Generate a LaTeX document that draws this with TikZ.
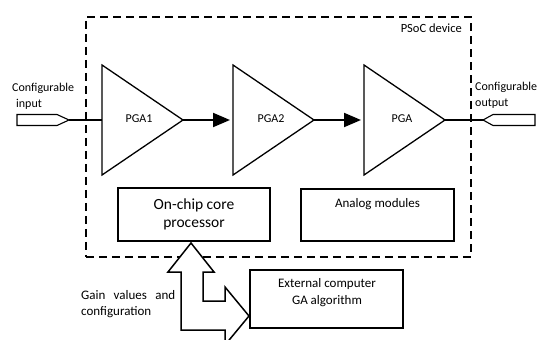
\documentclass[tikz,border=0pt]{standalone}
\usepackage{fontspec}
\setmainfont{Carlito}
\usetikzlibrary{arrows.meta}
\begin{document}
\begin{tikzpicture}[x=1pt,y=-1pt,
  amp/.style={draw,line width=1.3pt,line join=miter},
  sig/.style={draw,line width=1.1pt},
  box/.style={draw,line width=1.3pt,inner sep=0pt},
  thickbox/.style={draw,line width=2pt,inner sep=0pt},
  flow/.style={line width=2pt,-{Triangle[length=17pt,width=14pt]},shorten >=3pt},
  dashbox/.style={draw,line width=1.6pt,dash pattern=on 8pt off 5pt,inner sep=0pt},
  lbl/.style={font=\fontsize{12}{16}\selectfont,inner sep=0pt},
  pgalbl/.style={font=\fontsize{12}{14}\selectfont,inner sep=0pt},
  bigarrow/.style={draw,line width=1.5pt,line join=miter,fill=white}]
\useasboundingbox (0,0) rectangle (544,340);
\clip (0,0) rectangle (544,340);

% PSoC device boundary
\node[dashbox,minimum width=385pt,minimum height=240pt,anchor=north west] (psoc) at (85,16) {};
\node[lbl,anchor=north east,font=\fontsize{12.5}{15}\selectfont] (psoclbl) at (462,24) {PSoC device};

% amplifiers
\coordinate (p1l) at (102,120); \coordinate (p1a) at (183,120);
\coordinate (p2l) at (233,120); \coordinate (p2a) at (314,120);
\coordinate (p3l) at (364,120); \coordinate (p3a) at (445,120);
\draw[amp] (102,65) -- (p1a) -- (102,175) -- cycle;
\draw[amp] (233,65) -- (p2a) -- (233,175) -- cycle;
\draw[amp] (364,65) -- (p3a) -- (364,175) -- cycle;
\node[pgalbl] (pga1) at (139,119) {PGA1};
\node[pgalbl] (pga2) at (271,119) {PGA2};
\node[pgalbl] (pga3) at (402,119) {PGA};

\draw[flow] (p1a) -- (p2l);
\draw[flow] (p2a) -- (p3l);

% input port
\coordinate (inport) at (69,120);
\draw[sig] (17,114.5) -- (57,114.5) -- (inport) -- (57,125.5) -- (17,125.5) -- cycle;
\draw[sig] (inport) -- (p1l);
\node[lbl,anchor=north west,align=left] (inlbl) at (12,83) {Configurable\\\hspace*{4pt}input};

% output port
\coordinate (outport) at (483,120);
\draw[sig] (outport) -- (493,114.5) -- (535,114.5) -- (535,125.5) -- (493,125.5) -- cycle;
\draw[sig] (p3a) -- (outport);
\node[lbl,anchor=north west,align=left] (outlbl) at (475,82) {Configurable\\output};

% internal boxes
\node[box,minimum width=152pt,minimum height=53pt,align=center,font=\fontsize{15.5}{18.5}\selectfont] (core) at (194,214.5) {On-chip core\\processor};
\node[box,minimum width=153pt,minimum height=52pt] (analog) at (377.5,215) {};
\node[lbl,font=\fontsize{13}{16}\selectfont] (analoglbl) at (377.5,204) {Analog modules};

% external computer
\node[thickbox,minimum width=153pt,minimum height=58pt] (ext) at (326.5,299) {};
\node[lbl,align=center,font=\fontsize{13}{17}\selectfont] (extlbl) at (327,293) {External computer\\GA algorithm};

% double arrow between core and external computer
\draw[bigarrow] (191,243) -- (214,272) -- (203,272) -- (203,301) -- (225,301) -- (225,287)
  -- (249,316) -- (225,345) -- (225,330) -- (181,330) -- (181,272) -- (168,272) -- cycle;

\node[lbl,font=\fontsize{13}{16}\selectfont,text width=94pt,align=justify,anchor=west] (gainlbl) at (81,304) {Gain values and configuration};
\end{tikzpicture}
\end{document}
